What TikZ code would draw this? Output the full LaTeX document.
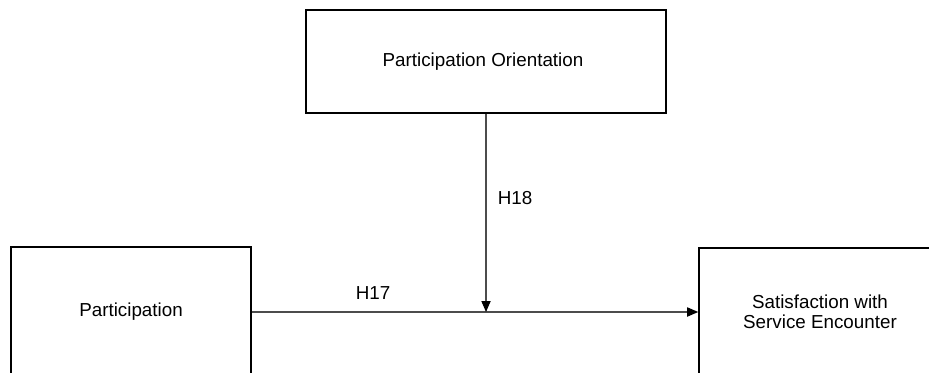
\documentclass[tikz,border=0pt]{standalone}
\usepackage{fontspec}
\setmainfont{Liberation Sans}
\usetikzlibrary{arrows.meta}
\begin{document}
\begin{tikzpicture}[x=0.5pt,y=-0.5pt,
  box/.style={draw=black,line width=0.8pt,rectangle,inner sep=0pt,align=center,
    font=\fontsize{9.4pt}{9.6pt}\selectfont},
  link/.style={draw=black!70,line width=0.55pt,
    -{Triangle[length=5.5pt,width=4.6pt,color=black]}},
  tag/.style={inner sep=0pt,font=\fontsize{9.4pt}{11pt}\selectfont}]
\useasboundingbox (0,0) rectangle (929,373);
\clip (0,0) rectangle (929,373);
% constructs
\node[box,minimum width=180pt,minimum height=51.5pt] (orient) at (486,61.5)
  {\hspace*{-3pt}Participation Orientation};
\node[box,minimum width=120pt,minimum height=65pt] (part) at (131,312)
  {Participation};
\node[box,minimum width=121pt,minimum height=64pt] (satis) at (820,312)
  {Satisfaction with\\[0.4pt]Service Encounter};
% main effect and moderation
\coordinate (meet) at (orient.south |- part.east);
\draw[link] (part.east) -- (satis.west);
\draw[link] (orient.south) -- (meet);
\node[tag] (h17) at (373,293) {H17};
\node[tag] (h18) at (515,198) {H18};
\end{tikzpicture}
\end{document}
